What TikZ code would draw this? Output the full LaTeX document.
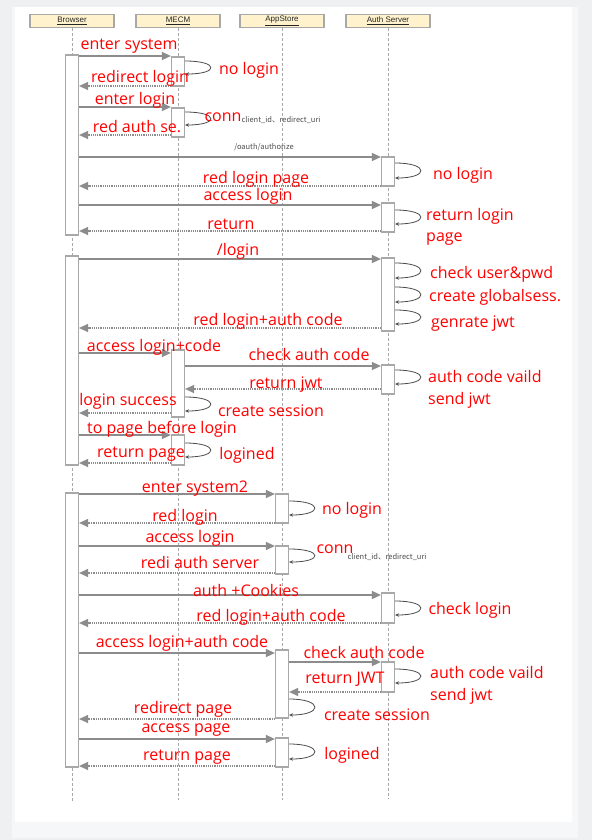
\documentclass[tikz,border=0pt]{standalone}
\usepackage{fontspec}
\setmainfont{Open Sans}
\newfontfamily\cjk{Noto Sans CJK SC}
\newfontfamily\hdfont{Liberation Sans}
\usepackage{xcolor}
\usetikzlibrary{arrows.meta,
	calc,
	positioning}

\definecolor{bgout}{HTML}{EEF0F2}
\definecolor{bgcard}{HTML}{F6F7F9}
\definecolor{headfill}{HTML}{FFF2CC}
\definecolor{linegray}{HTML}{8C8C8C}
\definecolor{boxgray}{HTML}{A8A8A8}
\definecolor{lblred}{HTML}{FF0000}

\begin{document}
\begin{tikzpicture}[x=1pt, y=-1pt,
        head/.style={draw=boxgray, line width=1.3pt, fill=headfill, minimum width=84, minimum height=13, inner sep=0pt, font=\hdfont\fontsize{8}{9}\selectfont, text=black!85},
        life/.style={draw=boxgray, line width=0.9pt, dash pattern=on 3pt off 2pt},
        act/.style={draw=boxgray, fill=white, line width=1.2pt, inner sep=0pt, minimum width=13},
        call/.style={draw=linegray, line width=1.4pt, -{Triangle[length=9pt,width=8pt]}},
        ret/.style={draw=linegray, line width=1.2pt, densely dotted, -{Triangle[length=9pt,width=8pt]}},
        self/.style={draw=black!70, line width=0.8pt, -{Stealth[length=4pt,width=3.5pt]}},
        lab/.style={text=lblred, font=\fontsize{16}{21.5}\selectfont, inner sep=0pt, yshift=-2pt},
        note/.style={text=black!70, font=\cjk\fontsize{7.5}{9}\selectfont, inner sep=0pt}]
            \useasboundingbox (0,0) rectangle (592,840);
            \fill[bgout] (0,0) rectangle (592,840);
            \fill[bgcard] (12,7) rectangle (578,838);
            \fill[white] (15,7) rectangle (572,822);

            \node[head] (browser) at (72,21) {\underline{Browser}};
            \node[head] (mecm) at (178,21) {\underline{MECM}};
            \node[head] (appstore) at (282,21) {\underline{AppStore}};
            \node[head] (auth) at (388,21) {\underline{Auth Server}};

            \draw[life] (browser.south) -- (browser.south |- 0,803);
            \draw[life] (mecm.south) -- (mecm.south |- 0,800);
            \draw[life] (appstore.south) -- (appstore.south |- 0,800);
            \draw[life] (auth.south) -- (auth.south |- 0,799);

            \foreach \n/\x/\y/\h in {b1/72/145/180, b2/72/360.5/209, b3/72/630/274,
                    m1/178/71.5/29, m2/178/122.5/29, m3/178/383.5/67, m4/178/450/30,
                    s1/282/508.5/29, s2/282/560/28, s3/282/684/68, s4/282/752.5/29,
                    a1/388/171.5/29, a2/388/217.5/29, a3/388/294.5/73, a4/388/379.5/29,
                    a5/388/608/30, a6/388/677/30}
                \node[act, minimum height=\h] (\n) at (\x,\y) {};

            \foreach \f/\t/\y in {b1/m1/56, b1/m2/107, b1/a1/157, b1/a2/205, b2/a3/259,
                    b2/m3/353, m3/a4/366, b2/m4/435, b3/s1/494, b3/s2/546, b3/a5/595,
                    b3/s3/653, s3/a6/662, b3/s4/739}
                \draw[call] (\f.east |- 0,\y) -- (\t.west |- 0,\y);

            \foreach \f/\t/\y in {m1/b1/86, m2/b1/135, a1/b1/186, a2/b1/231, a3/b2/328,
                    a4/m3/389, m3/b2/413, m4/b2/463, s1/b3/523, s2/b3/573, a5/b3/623,
                    a6/s3/692, s3/b3/719, s4/b3/766}
                \draw[ret] (\f.west |- 0,\y) -- (\t.east |- 0,\y);

            \foreach \b/\p/\q in {m1/61/74, m2/112/125, a1/163/178, a2/210/224,
                    a3/263/278, a3/287/302, a3/310/324, a4/370/384, m3/397/411,
                    m4/443/457, s1/501/515, s2/549/562, a5/601/615, a6/669/683,
                    s3/699/715, s4/744/759}
                \draw[self] (\b.east |- 0,\p) .. controls +(34,0) and +(34,0) .. (\b.east |- 0,\q);

            % first visit
            \node[lab] (t1) at (129,44) {enter system};
            \node[lab] (t2) at (249,68) {no login};
            \node[lab] (t3) at (140,76) {redirect login};
            \node[lab] (t4) at (135,98) {enter login};
            \node[lab] (t5) at (223,115) {conn};
            \node[note] (n5) at (281,120) {client\_id、redirect\_uri};
            \node[lab] (t6) at (137,125) {red auth se.};
            \node[note] (n7) at (264,147) {/oauth/authorize};
            \node[lab] (t8) at (463,173) {no login};
            \node[lab] (t9) at (256,177) {red login page};
            \node[lab] (t10) at (248,194) {access login};
            \node[lab, anchor=west, align=left] (t11) at (426,225) {return login\\page};
            \node[lab] (t12) at (231,222) {return};
            \node[lab] (t13) at (238,249) {/login};
            \node[lab, anchor=west] (t14a) at (430,272) {check user\&pwd};
            \node[lab, anchor=west] (t14b) at (429,295) {create globalsess.};
            \node[lab, anchor=west] (t14c) at (431,322) {genrate jwt};
            \node[lab] (t15) at (268,319) {red login+auth code};
            \node[lab] (t16) at (154,345) {access login+code};
            \node[lab] (t17) at (309,352) {check auth code};
            \node[lab, anchor=west, align=left] (t18) at (428,387.5) {auth code vaild\\send jwt};
            \node[lab] (t19) at (286,383) {return jwt};
            \node[lab] (t20) at (271,409) {create session};
            \node[lab] (t21) at (128,399) {login success};
            \node[lab] (t22) at (162,427) {to page before login};
            \node[lab] (t23) at (247,453) {logined};
            \node[lab] (t24) at (141,452) {return page};

            % second system
            \node[lab] (t25) at (195,487) {enter system2};
            \node[lab] (t26) at (352,508) {no login};
            \node[lab] (t27) at (185,515) {red login};
            \node[lab] (t28) at (190,536) {access login};
            \node[lab] (t29) at (335,547) {conn};
            \node[note] (n29) at (387,557) {client\_id、redirect\_uri};
            \node[lab] (t30) at (200,560) {redi auth server};
            \node[lab] (t31) at (246,588) {auth +Cookies};
            \node[lab] (t32) at (470,608) {check login};
            \node[lab] (t33) at (271,615) {red login+auth code};
            \node[lab] (t34) at (182,641) {access login+auth code};
            \node[lab] (t35) at (364,650) {check auth code};
            \node[lab, anchor=west, align=left] (t36) at (430,683.5) {auth code vaild\\send jwt};
            \node[lab] (t37) at (345,677) {return JWT};
            \node[lab] (t38) at (377,713) {create session};
            \node[lab] (t39) at (183,707) {redirect page};
            \node[lab] (t40) at (186,728) {access page};
            \node[lab] (t41) at (352,753) {logined};
            \node[lab] (t42) at (187,755) {return page};
        \end{tikzpicture}
\end{document}
